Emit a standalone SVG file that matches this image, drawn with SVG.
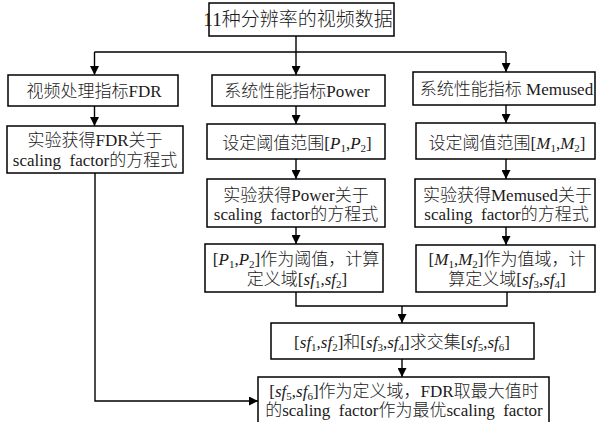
<svg xmlns="http://www.w3.org/2000/svg" width="596" height="422" viewBox="0 0 596 422">
<defs>
<marker id="arr" markerUnits="userSpaceOnUse" markerWidth="9" markerHeight="9" refX="9" refY="4.5" orient="auto">
<path d="M0,0 L9,4.5 L0,9 z" fill="#000"/>
</marker>
<style>
.box{fill:#fff;stroke:#000;stroke-width:1.5}
.t{font-family:"Liberation Serif","Noto Sans CJK SC",serif;font-size:17px;font-weight:300;fill:#1a1a1a;text-anchor:middle;white-space:pre}
.c{fill:none;stroke:#000;stroke-width:1.4}
.i{font-style:italic}
.s{font-size:11px}
</style>
</defs>
<rect width="596" height="422" fill="#fff"/>
<g id="connectors">
<path class="c" d="M296,36 V52 M94.5,52 H506"/>
<path class="c" d="M94.5,52 V75" marker-end="url(#arr)"/>
<path class="c" d="M296,52 V75" marker-end="url(#arr)"/>
<path class="c" d="M506,52 V72" marker-end="url(#arr)"/>
<path class="c" d="M94.5,106 V126" marker-end="url(#arr)"/>
<path class="c" d="M296,106 V124" marker-end="url(#arr)"/>
<path class="c" d="M296,159 V179" marker-end="url(#arr)"/>
<path class="c" d="M296,227 V244" marker-end="url(#arr)"/>
<path class="c" d="M506,105 V123" marker-end="url(#arr)"/>
<path class="c" d="M506,159 V179" marker-end="url(#arr)"/>
<path class="c" d="M506,227 V245" marker-end="url(#arr)"/>
<path class="c" d="M296,292 V306 H507 V292"/>
<path class="c" d="M402,306 V323" marker-end="url(#arr)"/>
<path class="c" d="M402,359 V377" marker-end="url(#arr)"/>
<path class="c" d="M95,173 V401 H258" marker-end="url(#arr)"/>
</g>
<g id="n_top">
<rect class="box" x="209" y="3" width="185" height="33"/>
<text class="t" x="298" y="26" style="font-size:19px">11种分辨率的视频数据</text>
</g>
<g id="n_fdr">
<rect class="box" x="8" y="75" width="170" height="31"/>
<text class="t" x="94" y="97">视频处理指标FDR</text>
</g>
<g id="n_power">
<rect class="box" x="212" y="75" width="173" height="31"/>
<text class="t" x="297" y="97">系统性能指标Power</text>
</g>
<g id="n_mem">
<rect class="box" x="413" y="72" width="182" height="33"/>
<text class="t" x="506.5" y="95">系统性能指标 Memused</text>
</g>
<g id="n_fdr_eq">
<rect class="box" x="7" y="126" width="176" height="47"/>
<text class="t" x="95" y="146">实验获得FDR关于</text>
<text class="t" x="95" y="166">scaling  factor的方程式</text>
</g>
<g id="n_p_range">
<rect class="box" x="207" y="124" width="178" height="35"/>
<text class="t" x="297" y="149">设定阈值范围[<tspan class="i">P</tspan><tspan class="s" dy="3">1</tspan><tspan dy="-3">,</tspan><tspan class="i">P</tspan><tspan class="s" dy="3">2</tspan><tspan dy="-3">]</tspan></text>
</g>
<g id="n_m_range">
<rect class="box" x="416" y="123" width="179" height="36"/>
<text class="t" x="507" y="149">设定阈值范围[<tspan class="i">M</tspan><tspan class="s" dy="3">1</tspan><tspan dy="-3">,</tspan><tspan class="i">M</tspan><tspan class="s" dy="3">2</tspan><tspan dy="-3">]</tspan></text>
</g>
<g id="n_power_eq">
<rect class="box" x="207" y="179" width="178" height="48"/>
<text class="t" x="296" y="201">实验获得Power关于</text>
<text class="t" x="296" y="220">scaling  factor的方程式</text>
</g>
<g id="n_mem_eq">
<rect class="box" x="415" y="179" width="180" height="48"/>
<text class="t" x="507.5" y="201">实验获得Memused关于</text>
<text class="t" x="506.5" y="220">scaling  factor的方程式</text>
</g>
<g id="n_p_dom">
<rect class="box" x="205" y="244" width="178" height="48"/>
<text class="t" x="296" y="265">[<tspan class="i">P</tspan><tspan class="s" dy="3">1</tspan><tspan dy="-3">,</tspan><tspan class="i">P</tspan><tspan class="s" dy="3">2</tspan><tspan dy="-3">]作为阈值，计算</tspan></text>
<text class="t" x="297" y="285">定义域[<tspan class="i">sf</tspan><tspan class="s" dy="3">1</tspan><tspan dy="-3">,</tspan><tspan class="i">sf</tspan><tspan class="s" dy="3">2</tspan><tspan dy="-3">]</tspan></text>
</g>
<g id="n_m_dom">
<rect class="box" x="416" y="245" width="179" height="47"/>
<text class="t" x="507" y="265">[<tspan class="i">M</tspan><tspan class="s" dy="3">1</tspan><tspan dy="-3">,</tspan><tspan class="i">M</tspan><tspan class="s" dy="3">2</tspan><tspan dy="-3">]作为值域，计</tspan></text>
<text class="t" x="507" y="285">算定义域[<tspan class="i">sf</tspan><tspan class="s" dy="3">3</tspan><tspan dy="-3">,</tspan><tspan class="i">sf</tspan><tspan class="s" dy="3">4</tspan><tspan dy="-3">]</tspan></text>
</g>
<g id="n_inter">
<rect class="box" x="271" y="323" width="263" height="36"/>
<text class="t" x="402" y="348">[<tspan class="i">sf</tspan><tspan class="s" dy="3">1</tspan><tspan dy="-3">,</tspan><tspan class="i">sf</tspan><tspan class="s" dy="3">2</tspan><tspan dy="-3">]和[</tspan><tspan class="i">sf</tspan><tspan class="s" dy="3">3</tspan><tspan dy="-3">,</tspan><tspan class="i">sf</tspan><tspan class="s" dy="3">4</tspan><tspan dy="-3">]求交集[</tspan><tspan class="i">sf</tspan><tspan class="s" dy="3">5</tspan><tspan dy="-3">,</tspan><tspan class="i">sf</tspan><tspan class="s" dy="3">6</tspan><tspan dy="-3">]</tspan></text>
</g>
<g id="n_final">
<rect class="box" x="258" y="377" width="291" height="50"/>
<text class="t" x="404" y="397">[<tspan class="i">sf</tspan><tspan class="s" dy="3">5</tspan><tspan dy="-3">,</tspan><tspan class="i">sf</tspan><tspan class="s" dy="3">6</tspan><tspan dy="-3">]作为定义域，FDR取最大值时</tspan></text>
<text class="t" x="404" y="416">的scaling  factor作为最优scaling  factor</text>
</g>
</svg>
